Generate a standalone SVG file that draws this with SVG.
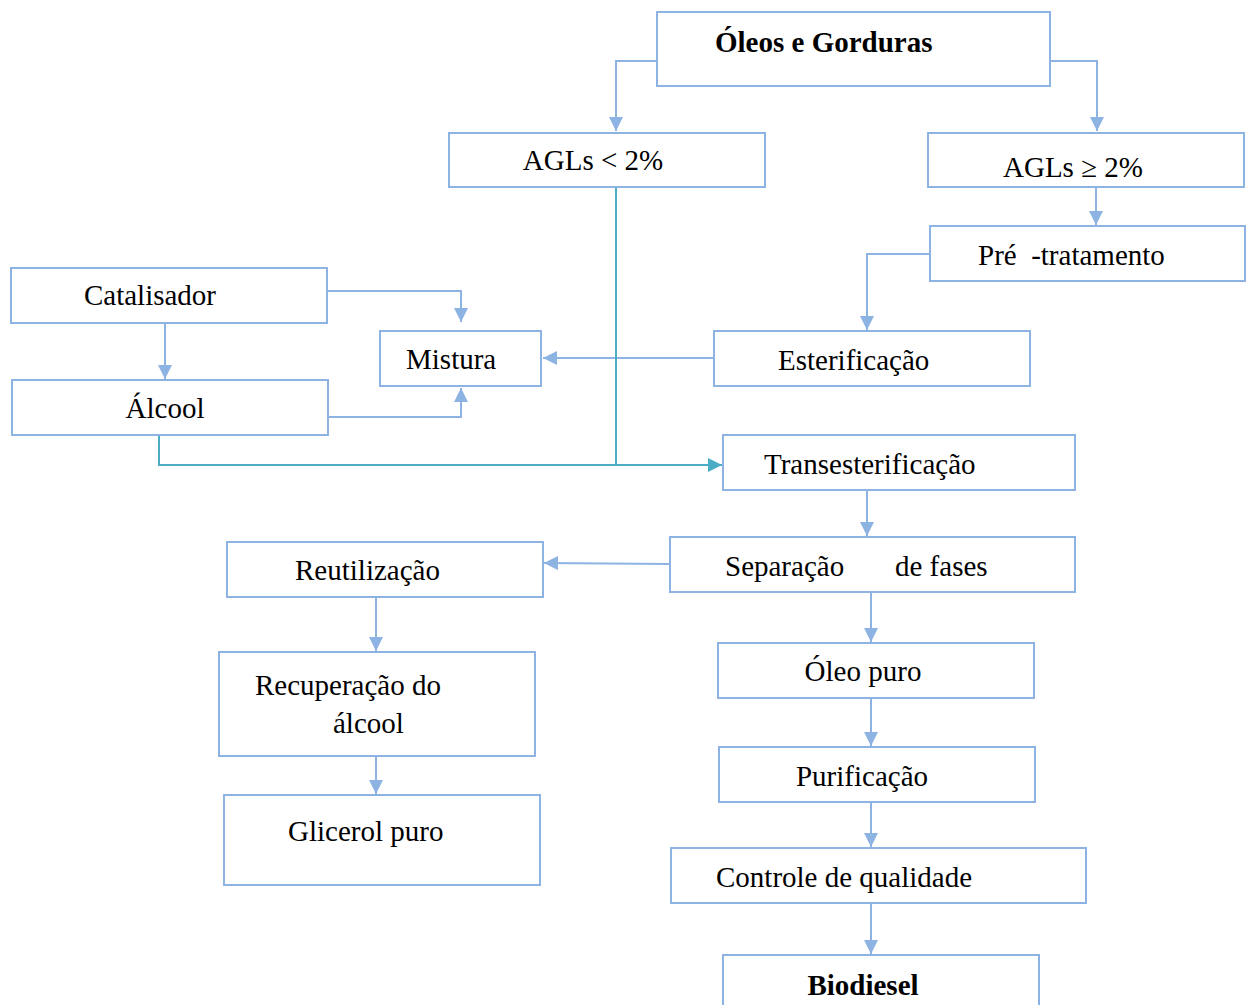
<svg xmlns="http://www.w3.org/2000/svg" width="1248" height="1005" viewBox="0 0 1248 1005">
<defs>
<style>
.box{fill:#fff;stroke:#8db3e2;stroke-width:2}
.t{font-family:"Liberation Serif","Times New Roman",serif;font-size:29px;fill:#000}
.b{font-weight:bold}
.c{fill:none;stroke:#8db3e2;stroke-width:2}
.tc{fill:none;stroke:#4bacc6;stroke-width:2}
</style>
<marker id="a" viewBox="0 0 10 10" refX="10" refY="5" markerWidth="7.5" markerHeight="7" markerUnits="strokeWidth" orient="auto"><path d="M0,0 L10,5 L0,10 z" fill="#8db3e2"/></marker>
<marker id="at" viewBox="0 0 10 10" refX="10" refY="5" markerWidth="7.5" markerHeight="7" markerUnits="strokeWidth" orient="auto"><path d="M0,0 L10,5 L0,10 z" fill="#4bacc6"/></marker>
</defs>
<rect width="1248" height="1005" fill="#fff"/>
<g id="connectors">
<path class="c" d="M657,61 H616 V131" marker-end="url(#a)"/>
<path class="c" d="M1050,61 H1097 V131" marker-end="url(#a)"/>
<path class="c" d="M1096,187 V225" marker-end="url(#a)"/>
<path class="c" d="M930,254 H867 V330" marker-end="url(#a)"/>
<path class="c" d="M714,358 H543" marker-end="url(#a)"/>
<path class="c" d="M327,291 H461 V322" marker-end="url(#a)"/>
<path class="c" d="M165,323 V379" marker-end="url(#a)"/>
<path class="c" d="M328,417 H461 V388" marker-end="url(#a)"/>
<path class="tc" d="M616,187 V465"/>
<path class="tc" d="M159,435 V465 H722" marker-end="url(#at)"/>
<path class="c" d="M867,490 V536" marker-end="url(#a)"/>
<path class="c" d="M670,564 L544,563" marker-end="url(#a)"/>
<path class="c" d="M376,597 V651" marker-end="url(#a)"/>
<path class="c" d="M376,756 V794" marker-end="url(#a)"/>
<path class="c" d="M871,592 V642" marker-end="url(#a)"/>
<path class="c" d="M871,698 V746" marker-end="url(#a)"/>
<path class="c" d="M871,802 V847" marker-end="url(#a)"/>
<path class="c" d="M871,903 V954" marker-end="url(#a)"/>
</g>
<g id="oleos"><rect class="box" x="657" y="12" width="393" height="74"/><text class="t b" x="715" y="52">Óleos e Gorduras</text></g>
<g id="agl-menor"><rect class="box" x="449" y="133" width="316" height="54"/><text class="t" x="593" y="170" text-anchor="middle">AGLs &lt; 2%</text></g>
<g id="agl-maior"><rect class="box" x="928" y="133" width="316" height="54"/><text class="t" x="1073" y="177" text-anchor="middle">AGLs ≥ 2%</text></g>
<g id="pre"><rect class="box" x="930" y="226" width="315" height="55"/><text class="t" x="978" y="265" xml:space="preserve">Pré  -tratamento</text></g>
<g id="catalisador"><rect class="box" x="11" y="268" width="316" height="55"/><text class="t" x="150" y="305" text-anchor="middle">Catalisador</text></g>
<g id="mistura"><rect class="box" x="380" y="331" width="161" height="55"/><text class="t" x="406" y="369">Mistura</text></g>
<g id="esterificacao"><rect class="box" x="714" y="331" width="316" height="55"/><text class="t" x="778" y="370">Esterificação</text></g>
<g id="alcool"><rect class="box" x="12" y="380" width="316" height="55"/><text class="t" x="165" y="418" text-anchor="middle">Álcool</text></g>
<g id="trans"><rect class="box" x="723" y="435" width="352" height="55"/><text class="t" x="764" y="474">Transesterificação</text></g>
<g id="reutilizacao"><rect class="box" x="227" y="542" width="316" height="55"/><text class="t" x="295" y="580">Reutilização</text></g>
<g id="separacao"><rect class="box" x="670" y="537" width="405" height="55"/><text class="t" x="725" y="576">Separação</text><text class="t" x="895" y="576">de fases</text></g>
<g id="oleo-puro"><rect class="box" x="718" y="643" width="316" height="55"/><text class="t" x="863" y="681" text-anchor="middle">Óleo puro</text></g>
<g id="recuperacao"><rect class="box" x="219" y="652" width="316" height="104"/><text class="t" x="255" y="695">Recuperação do</text><text class="t" x="333" y="733">álcool</text></g>
<g id="glicerol"><rect class="box" x="224" y="795" width="316" height="90"/><text class="t" x="288" y="841">Glicerol puro</text></g>
<g id="purificacao"><rect class="box" x="719" y="747" width="316" height="55"/><text class="t" x="862" y="786" text-anchor="middle">Purificação</text></g>
<g id="controle"><rect class="box" x="671" y="848" width="415" height="55"/><text class="t" x="716" y="887">Controle de qualidade</text></g>
<g id="biodiesel"><rect class="box" x="723" y="955" width="316" height="70"/><text class="t b" x="863" y="995" text-anchor="middle">Biodiesel</text></g>
</svg>
